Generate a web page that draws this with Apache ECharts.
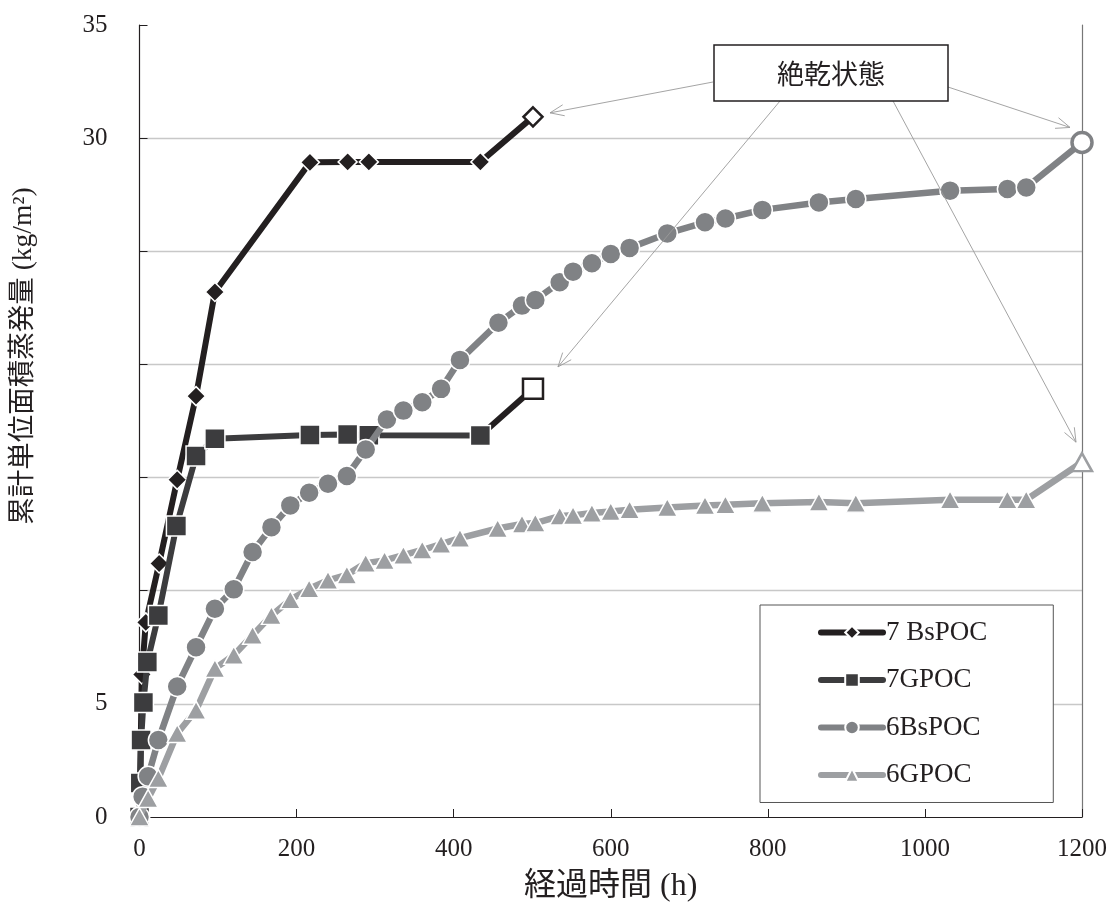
<!DOCTYPE html>
<html><head><meta charset="utf-8">
<script src="https://cdn.jsdelivr.net/npm/echarts@6/dist/echarts.min.js"></script>
<style>html,body{margin:0;padding:0;background:#fff}#c{width:1118px;height:912px}</style>
</head><body><div id="c"></div>
<script>
// ---- data ----
const seriesNames = ['7 BsPOC', '7GPOC', '6BsPOC', '6GPOC'];
const bsPOC7 = [[0,0],[3,6.3],[8,8.6],[25,11.2],[48,14.9],[72,18.6],[96,23.2],[217,28.93],[265,28.95],[292,28.95],[434,28.95],[501,30.94]];
const gPOC7 = [[0,0],[1,1.5],[2,3.4],[5,5.06],[10,6.85],[24,8.9],[47,12.86],[72,15.95],[96,16.72],[217,16.88],[265,16.9],[292,16.87],[434,16.86],[501,18.92]];
const bsPOC6 = [[0,0],[4,0.9],[11,1.8],[24,3.4],[48,5.77],[72,7.5],[96,9.2],[120,10.06],[144,11.71],[168,12.81],[192,13.77],[216,14.33],[240,14.73],[264,15.07],[288,16.24],[315,17.57],[336,17.96],[360,18.33],[384,18.92],[408,20.2],[457,21.84],[487,22.6],[504,22.85],[535,23.63],[552,24.1],[576,24.47],[600,24.88],[624,25.15],[672,25.79],[720,26.28],[746,26.45],[793,26.83],[865,27.16],[912,27.31],[1032,27.68],[1105,27.75],[1129,27.82],[1200,29.81]];
const gPOC6 = [[0,0],[11,0.82],[24,1.7],[48,3.69],[72,4.72],[96,6.56],[120,7.15],[144,8.03],[168,8.91],[192,9.6],[216,10.09],[240,10.46],[264,10.7],[288,11.22],[312,11.34],[336,11.57],[360,11.8],[384,12.06],[408,12.32],[456,12.75],[487,12.95],[504,12.99],[535,13.3],[552,13.33],[576,13.43],[600,13.5],[624,13.58],[672,13.68],[720,13.77],[746,13.8],[793,13.87],[865,13.92],[912,13.87],[1032,14.02],[1105,14.02],[1129,14.02],[1200,15.68]];
const xTicks = [0, 200, 400, 600, 800, 1000, 1200];
const yLabelsShown = [0, 5, 30, 35];
const annotationText = '絶乾状態';
const xTitle = '経過時間 (h)';
const yTitle = '累計単位面積蒸発量 (kg/m²)';

// ---- styling ----
const colors = ['#231f20', '#3c3c3e', '#808285', '#9d9fa2'];
const serif = '"Liberation Serif", "Noto Sans CJK JP", serif';

function withHollowLast(arr, color, bw) {
  return arr.map((p, i) => i === arr.length - 1
    ? { value: p, itemStyle: { color: '#fff', borderColor: color, borderWidth: bw } }
    : p);
}

const chart = echarts.init(document.getElementById('c'), null, { renderer: 'canvas' });

const gMain = gPOC7.slice(0, -1);
const gEnd = gPOC7.slice(-2).map((p, i) => i === 0
  ? { value: p, symbolSize: 0 }
  : { value: p, itemStyle: { color: '#fff', borderColor: colors[0], borderWidth: 2.5 } });

const option = {
  animation: false,
  backgroundColor: '#fff',
  grid: { left: 139.5, right: 36, top: 25, bottom: 95, containLabel: false },
  legend: {
    data: seriesNames,
    orient: 'vertical',
    left: 760, top: 605,
    padding: [14, 66, 14, 58],
    itemGap: 20.5,
    itemWidth: 62, itemHeight: 17,
    borderColor: '#555', borderWidth: 1,
    backgroundColor: '#fff',
    lineStyle: { width: 6, cap: 'round' },
    textStyle: { fontFamily: serif, fontSize: 27, color: '#231f20', padding: [0, 0, 0, -2] }
  },
  xAxis: {
    type: 'value', min: 0, max: 1200, interval: 200,
    name: xTitle, nameLocation: 'middle', nameGap: 54,
    nameTextStyle: { fontFamily: serif, fontSize: 32, color: '#231f20' },
    axisLine: { show: true, lineStyle: { color: '#231f20', width: 1.2 } },
    axisTick: { show: true, inside: true, length: 8, lineStyle: { color: '#231f20' } },
    axisLabel: { fontFamily: serif, fontSize: 25, color: '#231f20', margin: 20,
      formatter: v => xTicks.includes(v) ? String(v) : '' },
    splitLine: { show: false }
  },
  yAxis: [{
    type: 'value', min: 0, max: 35, interval: 5,
    axisLine: { show: true, lineStyle: { color: '#231f20', width: 1.2 } },
    axisTick: { show: true, inside: true, length: 8, lineStyle: { color: '#231f20' } },
    axisLabel: { fontFamily: serif, fontSize: 25, color: '#231f20', margin: 32,
      formatter: v => yLabelsShown.includes(v) ? String(v) : '' },
    splitLine: { show: true, showMinLine: false, showMaxLine: false, lineStyle: { color: '#c8c8c8', width: 1.3 } }
  }, {
    type: 'value', min: 0, max: 35, interval: 5, position: 'right',
    axisLine: { show: true, lineStyle: { color: '#777', width: 1.2 } },
    axisTick: { show: false }, axisLabel: { show: false }, splitLine: { show: false }
  }],
  series: [
    {
      name: seriesNames[0], type: 'line', data: withHollowLast(bsPOC7, colors[0], 2.5), z: 2,
      symbol: 'diamond', symbolSize: 19, clip: false,
      lineStyle: { color: colors[0], width: 6 },
      itemStyle: { color: colors[0], borderColor: '#fff', borderWidth: 1.5 }
    },
    {
      name: seriesNames[1], type: 'line', data: gMain, z: 4,
      symbol: 'rect', symbolSize: 20, clip: false,
      lineStyle: { color: colors[1], width: 6 },
      itemStyle: { color: colors[1], borderColor: '#fff', borderWidth: 1.5 }
    },
    {
      name: seriesNames[1], type: 'line', data: gEnd, z: 3,
      symbol: 'rect', symbolSize: 20, clip: false,
      lineStyle: { color: colors[0], width: 6 },
      itemStyle: { color: colors[1], borderColor: '#fff', borderWidth: 1.5 }
    },
    {
      name: seriesNames[2], type: 'line', data: withHollowLast(bsPOC6, colors[2], 3.5), z: 5,
      symbol: 'circle', symbolSize: 20, clip: false,
      lineStyle: { color: colors[2], width: 6.5 },
      itemStyle: { color: colors[2], borderColor: '#fff', borderWidth: 1.5 }
    },
    {
      name: seriesNames[3], type: 'line', data: withHollowLast(gPOC6, colors[3], 2.5), z: 6,
      symbol: 'triangle', symbolSize: [20, 18], clip: false,
      lineStyle: { color: colors[3], width: 6.5 },
      itemStyle: { color: colors[3], borderColor: '#fff', borderWidth: 1.5 }
    }
  ]
};
chart.setOption(option);

// ---- annotation box with arrows pointing to the last (oven-dry) points ----
const box = { x: 714, y: 45, w: 234, h: 56 };
const px = p => chart.convertToPixel({ gridIndex: 0 }, p);
const last = a => a[a.length - 1];
const arrows = [
  { from: [713, 82], to: px(last(bsPOC7)), off: [17, -4] },
  { from: [948, 87], to: px(last(bsPOC6)), off: [-12, -15] },
  { from: [780, 101], to: px(last(gPOC7)), off: [25, -22] },
  { from: [893, 101], to: px(last(gPOC6)), off: [-6, -20] }
];
const graphics = [];
const aColor = '#9a9a9a';
arrows.forEach(a => {
  const tx = a.to[0] + a.off[0], ty = a.to[1] + a.off[1];
  const [fx, fy] = a.from;
  graphics.push({ type: 'line', z: 100, shape: { x1: fx, y1: fy, x2: tx, y2: ty },
    style: { stroke: aColor, lineWidth: 0.9 } });
  const ang = Math.atan2(fy - ty, fx - tx), L = 15, sp = 0.38;
  graphics.push({ type: 'polyline', z: 100, shape: { points: [
      [tx + L * Math.cos(ang + sp), ty + L * Math.sin(ang + sp)], [tx, ty],
      [tx + L * Math.cos(ang - sp), ty + L * Math.sin(ang - sp)]] },
    style: { stroke: aColor, lineWidth: 0.9, fill: null } });
});
graphics.push({ type: 'rect', z: 101, shape: { x: box.x, y: box.y, width: box.w, height: box.h },
  style: { fill: '#fff', stroke: '#231f20', lineWidth: 1.5 } });
graphics.push({ type: 'text', z: 102, x: box.x + box.w / 2, y: box.y + box.h / 2 + 1,
  style: { text: annotationText, font: '27px "Noto Sans CJK JP"', fill: '#231f20', align: 'center', verticalAlign: 'middle' } });
graphics.push({ type: 'text', z: 102, x: 24, y: 356, rotation: Math.PI / 2,
  style: { text: yTitle, font: '27.5px ' + serif, fill: '#231f20', align: 'center', verticalAlign: 'middle' } });
chart.setOption({ graphic: graphics });
</script>
</body></html>
